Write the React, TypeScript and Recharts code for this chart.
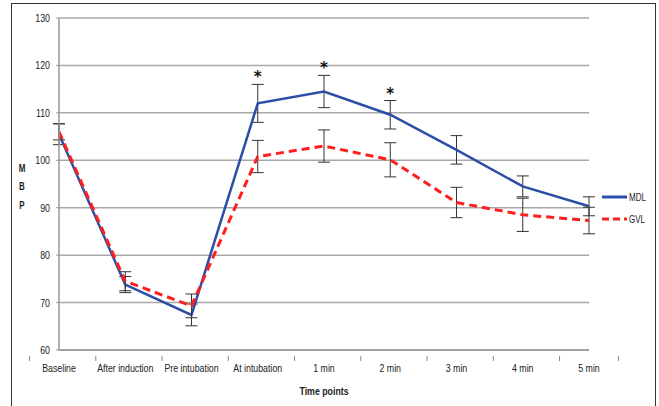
import React from "react";
import { CartesianGrid, ErrorBar, LabelList, Legend, Line, LineChart, XAxis, YAxis } from "recharts";

const categories = ["Baseline", "After induction", "Pre intubation", "At intubation", "1 min", "2 min", "3 min", "4 min", "5 min"];
const mdl = [105.5, 73.8, 67.4, 112, 114.5, 109.6, 102.2, 94.5, 90.3];
const mdlErr = [2.2, 1.7, 2.3, 4, 3.4, 3.0, 3.0, 2.2, 2.0];
const gvl = [106, 74.5, 69.3, 100.8, 103, 100.1, 91.1, 88.5, 87.3];
const gvlErr = [1.7, 2.0, 2.5, 3.4, 3.4, 3.6, 3.2, 3.5, 2.8];
const stars = ["", "", "", "*", "*", "*", "", "", ""];
const yTicks = [60, 70, 80, 90, 100, 110, 120, 130];

const data = categories.map((name, i) => ({
  name,
  mdl: mdl[i],
  mdlErr: mdlErr[i],
  gvl: gvl[i],
  gvlErr: gvlErr[i],
  star: stars[i],
}));

const W = 659;
const H = 406;
const MARGIN = { top: 18, right: 20, bottom: 0, left: 0 };
const Y_AXIS_W = 59;
const X_AXIS_H = 56;
const LEGEND_W = 50;
const FONT = "'Liberation Sans', Arial, sans-serif";
const SQUEEZE = 0.8;

const plotW = W - MARGIN.left - MARGIN.right - Y_AXIS_W - LEGEND_W;
const halfBand = plotW / categories.length / 2;

function NarrowText({ x, y, children, anchor = "middle", size = 11, bold = false }: any) {
  return (
    <text
      transform={`translate(${x},${y}) scale(${SQUEEZE},1)`}
      textAnchor={anchor}
      fontSize={size}
      fontWeight={bold ? "bold" : "normal"}
      fill="#222"
      fontFamily={FONT}
    >
      {children}
    </text>
  );
}

function CategoryTick(props: any) {
  const { x, y, payload, index } = props;
  return (
    <g>
      <line x1={x - halfBand} x2={x - halfBand} y1={y - 2} y2={y + 3} stroke="#888" />
      {index === categories.length - 1 && (
        <line x1={x + halfBand} x2={x + halfBand} y1={y - 2} y2={y + 3} stroke="#888" />
      )}
      <NarrowText x={x} y={y + 14}>{payload.value}</NarrowText>
    </g>
  );
}

function ValueTick(props: any) {
  const { x, y, payload } = props;
  return <NarrowText x={x - 4} y={y + 4} anchor="end">{payload.value}</NarrowText>;
}

function XLabel(props: any) {
  const { viewBox } = props;
  return (
    <NarrowText x={viewBox.x + viewBox.width / 2} y={395} size={11} bold>
      Time points
    </NarrowText>
  );
}

function StarLabel(props: any) {
  const { x, y, value } = props;
  if (!value) return null;
  return (
    <text x={x} y={y - 2} textAnchor="middle" fontSize={15} fontWeight="bold" fill="#111" fontFamily="'DejaVu Sans', sans-serif">
      {value}
    </text>
  );
}

function YLabel() {
  return (
    <g>
      <NarrowText x={22} y={172} size={10} bold>M</NarrowText>
      <NarrowText x={22} y={190} size={10} bold>B</NarrowText>
      <NarrowText x={22} y={209} size={10} bold>P</NarrowText>
    </g>
  );
}

function LegendBox() {
  const items = [
    { label: "MDL", color: "#2b4fa6", dash: undefined },
    { label: "GVL", color: "#ff1e1e", dash: "7 4" },
  ];
  return (
    <div style={{ fontFamily: FONT, fontSize: 10, color: "#222" }}>
      {items.map((it) => (
        <div key={it.label} style={{ display: "flex", alignItems: "center", height: 22 }}>
          <svg width={26} height={6} style={{ marginRight: 1 }}>
            <line x1={0} x2={25} y1={3} y2={3} stroke={it.color} strokeWidth={3} strokeDasharray={it.dash} />
          </svg>
          <span style={{ display: "inline-block", transform: `scaleX(${SQUEEZE})`, transformOrigin: "left center" }}>
            {it.label}
          </span>
        </div>
      ))}
    </div>
  );
}

export default function App() {
  return (
    <div style={{ position: "relative", width: W, height: H, background: "#fff", overflow: "hidden" }}>
      <style>{`body{margin:0}`}</style>
      <div
        style={{
          position: "absolute",
          left: 11,
          top: 3,
          width: 645,
          height: 420,
          border: "1.5px solid #333",
          boxSizing: "border-box",
        }}
      />
      <div style={{ position: "absolute", left: 0, top: 0 }}>
        <LineChart width={W} height={H} data={data} margin={MARGIN}>
          <CartesianGrid horizontal vertical={false} stroke="#a8a8a8" strokeWidth={1.5} />
          <XAxis
            dataKey="name"
            height={X_AXIS_H}
            axisLine={{ stroke: "#999", strokeWidth: 1.5 }}
            tickLine={false}
            tick={<CategoryTick />}
            interval={0}
            label={<XLabel />}
          />
          <YAxis
            width={Y_AXIS_W}
            domain={[60, 130]}
            ticks={yTicks}
            axisLine={{ stroke: "#999", strokeWidth: 1.5 }}
            tickLine={{ stroke: "#999" }}
            tickSize={3}
            tick={<ValueTick />}
            label={<YLabel />}
          />
          <Legend
            layout="vertical"
            align="right"
            verticalAlign="middle"
            width={LEGEND_W}
            content={<LegendBox />}
            wrapperStyle={{ left: 602, top: 186 }}
          />
          <Line
            type="linear"
            dataKey="mdl"
            stroke="#2b4fa6"
            strokeWidth={2.5}
            dot={false}
            isAnimationActive={false}
          >
            <ErrorBar dataKey="mdlErr" width={6} stroke="#333" strokeWidth={1} direction="y" isAnimationActive={false} />
          </Line>
          <Line
            type="linear"
            dataKey="gvl"
            stroke="#ff1e1e"
            strokeWidth={3}
            strokeDasharray="8 5"
            dot={false}
            isAnimationActive={false}
          >
            <ErrorBar dataKey="gvlErr" width={6} stroke="#333" strokeWidth={1} direction="y" isAnimationActive={false} />
          </Line>
          <Line
            type="linear"
            dataKey={(d: any) => d.mdl + d.mdlErr}
            stroke="none"
            dot={false}
            activeDot={false}
            legendType="none"
            isAnimationActive={false}
          >
            <LabelList dataKey="star" content={<StarLabel />} />
          </Line>
        </LineChart>
      </div>
    </div>
  );
}
